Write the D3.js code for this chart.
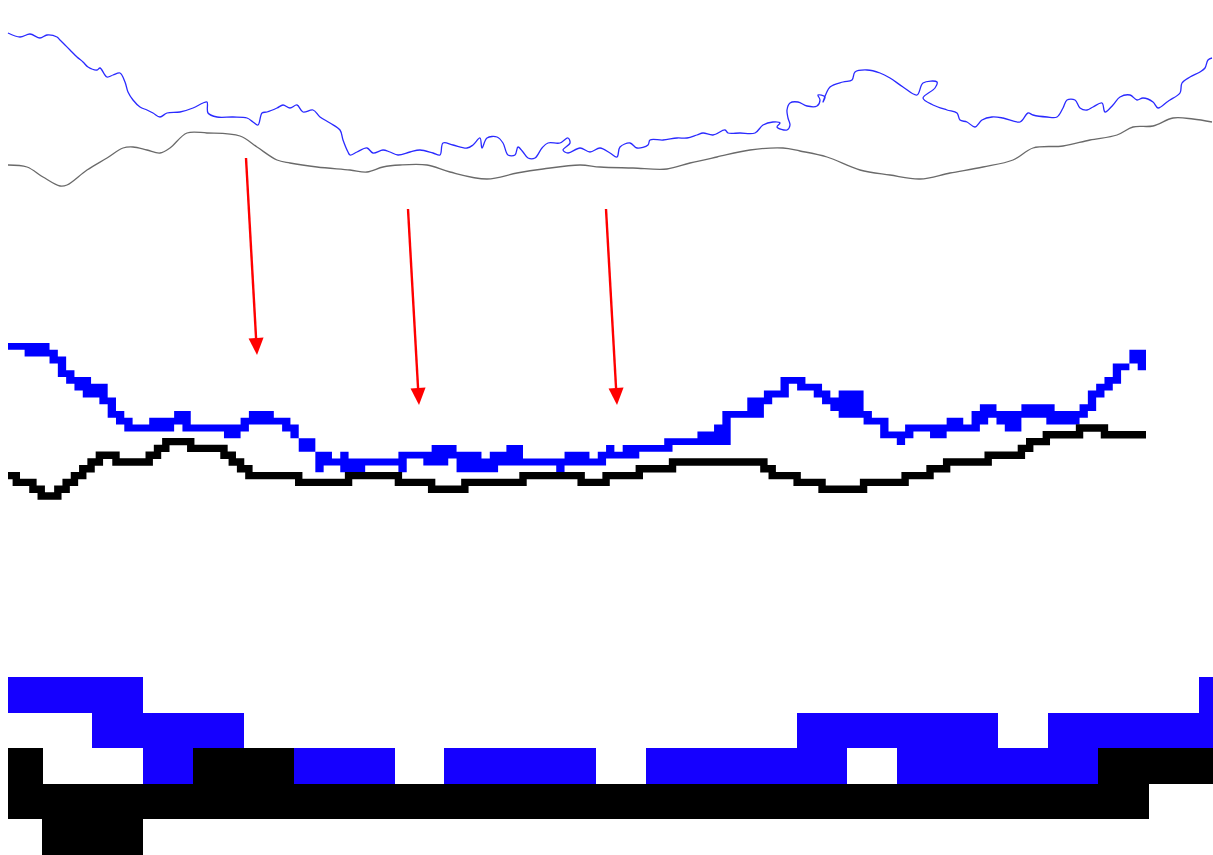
<!DOCTYPE html>
<html><head><meta charset="utf-8">
<script src="https://cdn.jsdelivr.net/npm/d3@7"></script>
<style>html,body{margin:0;padding:0;background:#fff;}svg{display:block;}</style>
</head><body>
<svg id="chart" width="1213" height="855"></svg>
<script>
// ---------- DATA ----------
// Top panel: raw traces [position, value]
const topBlueTrace = [[0,167],[12,163],[22,166],[32,162],[39,165],[49,163],[52,160],[57,155],[62,150],[69,143],[75,138],[80,133],[89,130],[92,132],[99,123],[105,125],[112,127],[117,118],[120,108],[125,100],[132,93],[139,90],[145,87],[152,83],[159,87],[172,88],[185,92],[195,97],[199,98],[200,87],[209,83],[225,83],[239,82],[245,78],[250,75],[254,87],[259,88],[269,92],[275,95],[282,92],[289,95],[295,88],[305,90],[312,83],[322,77],[332,70],[335,60],[340,48],[342,45],[349,48],[359,52],[365,47],[375,50],[382,48],[390,45],[402,48],[412,50],[425,47],[432,45],[435,57],[445,55],[459,52],[465,55],[472,62],[474,52],[479,62],[489,63],[495,57],[500,45],[507,45],[510,53],[515,48],[520,42],[527,42],[534,52],[540,57],[552,57],[560,62],[562,57],[555,50],[560,47],[572,52],[582,48],[592,52],[602,47],[609,43],[612,53],[622,57],[629,52],[640,55],[642,60],[655,60],[669,62],[679,62],[689,65],[695,67],[705,65],[717,70],[720,67],[732,67],[747,67],[755,75],[765,78],[772,77],[769,73],[779,70],[782,75],[780,82],[779,90],[782,97],[790,98],[799,94],[809,94],[812,100],[810,105],[817,103],[815,98],[822,113],[835,118],[844,120],[847,128],[859,130],[872,127],[882,122],[895,113],[909,105],[915,117],[929,118],[927,112],[915,102],[925,95],[939,90],[949,87],[952,80],[959,78],[967,73],[974,80],[984,83],[995,82],[1012,78],[1020,87],[1025,85],[1039,83],[1049,83],[1055,92],[1059,100],[1067,100],[1072,92],[1079,90],[1085,93],[1094,97],[1097,88],[1105,95],[1112,103],[1122,105],[1129,100],[1135,102],[1145,98],[1150,92],[1159,98],[1162,100],[1172,107],[1174,117],[1182,123],[1192,128],[1197,132],[1200,140],[1204,142]];
const topGrayTrace = [[0,35],[19,33],[35,23],[52,14],[59,15],[79,30],[99,42],[115,52],[125,53],[139,50],[152,47],[162,52],[179,67],[199,67],[232,64],[249,53],[269,40],[282,37],[309,33],[342,30],[359,28],[375,33],[392,35],[419,35],[442,28],[479,21],[509,27],[535,31],[572,35],[592,33],[625,32],[659,31],[682,37],[709,43],[742,50],[775,52],[792,49],[819,43],[852,30],[882,25],[912,21],[942,27],[975,33],[1005,40],[1025,52],[1055,54],[1082,60],[1109,65],[1125,73],[1145,74],[1165,82],[1185,81],[1204,78]];
// Arrows in top-panel units: [fromPos, fromVal, toPos, toVal]
const arrows = [[238,42,249,-155],[400,-9,411,-205],[598,-9,609,-205]];

// Middle panel (rasterised): breakpoints [column, topRow, bottomRow]
const midBlue = [[0,0,1],[2,0,2],[5,1,3],[6,2,5],[7,4,6],[8,5,7],[9,5,8],[10,6,8],[11,6,9],[12,8,11],[13,10,12],[14,11,13],[15,12,13],[17,11,13],[20,10,12],[21,10,13],[22,12,13],[26,12,14],[28,11,13],[29,10,12],[32,11,12],[33,11,13],[34,12,14],[35,14,16],[37,16,19],[38,16,18],[39,17,18],[40,16,19],[41,17,19],[43,17,18],[47,16,19],[48,16,17],[50,16,18],[51,15,18],[53,15,17],[54,16,19],[57,17,19],[58,16,19],[59,16,18],[60,15,18],[62,17,18],[66,17,19],[67,16,18],[70,17,18],[71,16,18],[72,15,17],[73,16,17],[74,15,17],[76,15,16],[79,14,16],[80,14,15],[83,13,15],[85,12,15],[86,10,15],[87,10,11],[89,8,11],[91,7,9],[92,7,8],[93,5,8],[94,5,6],[95,5,7],[96,6,7],[97,6,8],[98,7,9],[99,8,10],[100,7,11],[103,10,12],[104,11,12],[105,11,14],[106,13,14],[107,13,15],[108,12,14],[109,12,13],[111,12,14],[113,11,13],[115,12,13],[116,10,13],[117,9,12],[118,9,11],[119,10,12],[120,10,13],[122,9,11],[125,9,12],[126,10,12],[129,9,11],[130,7,10],[131,6,8],[132,5,7],[133,3,6],[134,3,4],[135,1,3],[136,1,4]];
// Black staircase: [column, row]
const midBlack = [[0,19],[1,20],[3,21],[4,22],[6,21],[7,20],[8,19],[9,18],[10,17],[11,16],[13,17],[17,16],[18,15],[19,14],[22,15],[26,16],[27,17],[28,18],[29,19],[35,20],[41,19],[47,20],[51,21],[55,20],[62,19],[69,20],[72,19],[76,18],[80,17],[91,18],[92,19],[95,20],[98,21],[103,20],[108,19],[111,18],[113,17],[118,16],[122,15],[123,14],[125,13],[129,12],[132,13]];
const midColumns = 137;

// Bottom panel (coarse grid): per column [firstRow, lastRow] or null
const lowBlue = [[0,0],[0,0],[0,1],[1,2],[1,1],null,[2,2],[2,2],null,[2,2],[2,2],[2,2],null,[2,2],[2,2],[2,2],[1,2],[1,1],[1,2],[1,2],[2,2],[1,2],[1,1],[1,1],[0,1]];
const lowBlack = [[2,3],[3,4],[3,4],[3,3],[2,3],[2,3],[3,3],[3,3],[3,3],[3,3],[3,3],[3,3],[3,3],[3,3],[3,3],[3,3],[3,3],[3,3],[3,3],[3,3],[3,3],[3,3],[2,3],[2,2],[2,2]];

// ---------- DRAW ----------
const svg = d3.select("#chart");
svg.append("rect").attr("width",1213).attr("height",855).attr("fill","#ffffff");
svg.append("defs").append("clipPath").attr("id","clipL")
  .append("rect").attr("x",8).attr("y",0).attr("width",1205).attr("height",855);

// Top panel
const topX = d3.scaleLinear().domain([0,1205]).range([8,1213]);
const topY = d3.scaleLinear().domain([0,200]).range([200,0]);
const topLine = d3.line().x(d=>topX(d[0])).y(d=>topY(d[1])).curve(d3.curveCatmullRom.alpha(0.5));
svg.append("path").attr("d",topLine(topGrayTrace)).attr("fill","none")
  .attr("stroke","#6a6a6a").attr("stroke-width",1.3);
svg.append("path").attr("d",topLine(topBlueTrace)).attr("fill","none")
  .attr("stroke","#2a2aff").attr("stroke-width",1.3).attr("stroke-linejoin","round");

// Middle panel
const midX = d3.scaleLinear().domain([0,midColumns]).range([8,1146]);
const midY = d3.scaleLinear().domain([0,23]).range([343,499.4]);
const blueEnd = midBlue[midBlue.length-1];
const blueData = midBlue.concat([[midColumns,blueEnd[1],blueEnd[2]]]);
const bandArea = d3.area().x(d=>midX(d[0])).y0(d=>midY(d[2])).y1(d=>midY(d[1])).curve(d3.curveStepAfter);
svg.append("path").attr("d",bandArea(blueData)).attr("fill","#0000ff");

const blackEnd = midBlack[midBlack.length-1];
const blackData = midBlack.concat([[midColumns,blackEnd[1]]]);
const stairLine = d3.line().x(d=>midX(d[0])).y(d=>midY(d[1]+0.5)).curve(d3.curveStepAfter);
svg.append("path").attr("d",stairLine(blackData)).attr("fill","none")
  .attr("stroke","#000").attr("stroke-width",7.4).attr("stroke-linejoin","miter").attr("stroke-linecap","butt");

// Arrows
const aG = svg.append("g");
arrows.forEach(a=>{
  const x1=topX(a[0]), y1=topY(a[1]), x2=topX(a[2]), y2=topY(a[3]);
  const dx=x2-x1, dy=y2-y1, L=Math.hypot(dx,dy), ux=dx/L, uy=dy/L;
  const hl=17, hw=7.5;
  const bx=x2-ux*hl, by=y2-uy*hl;
  aG.append("line").attr("x1",x1).attr("y1",y1).attr("x2",bx+ux*2).attr("y2",by+uy*2)
    .attr("stroke","#ff0000").attr("stroke-width",2.4);
  aG.append("polygon").attr("points",[[x2,y2],[bx-uy*hw,by+ux*hw],[bx+uy*hw,by-ux*hw]].map(p=>p.join(",")).join(" "))
    .attr("fill","#ff0000");
});

// Bottom panel
const lowX = d3.scaleLinear().domain([0,25]).range([-8.3,1249.2]);
const lowY = d3.scaleLinear().domain([0,5]).range([677,855]);
const lowG = svg.append("g").attr("clip-path","url(#clipL)").attr("shape-rendering","crispEdges");
function cells(arr,color){
  lowG.selectAll(null).data(arr.map((r,i)=>({i,r})).filter(d=>d.r)).enter().append("rect")
    .attr("x",d=>lowX(d.i)).attr("width",d=>lowX(d.i+1)-lowX(d.i)+0.5)
    .attr("y",d=>lowY(d.r[0])).attr("height",d=>lowY(d.r[1]+1)-lowY(d.r[0]))
    .attr("fill",color);
}
cells(lowBlue,"#1500ff");
cells(lowBlack,"#000000");
</script>
</body></html>
